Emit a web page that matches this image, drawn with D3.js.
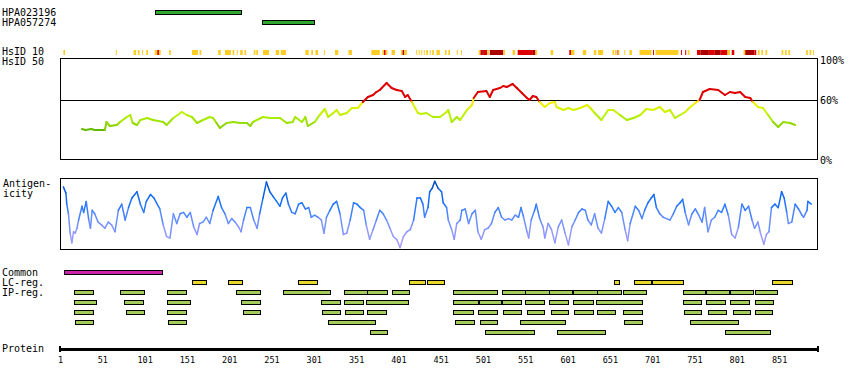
<!DOCTYPE html>
<html>
<head>
<meta charset="utf-8">
<script src="https://cdnjs.cloudflare.com/ajax/libs/d3/7.8.5/d3.min.js"></script>
<style>
    body { margin: 0; background: #fff; }
    text { font-family: "DejaVu Sans Mono", monospace; font-size: 10px; fill: #000; }
</style>
</head>
<body>
<svg id="chart" width="850" height="390"></svg>
<script>

var proteinLength = 897;
var axisTicks = [1, 51, 101, 151, 201, 251, 301, 351, 401, 451, 501, 551, 601, 651, 701, 751, 801, 851];
var pctTicks = [100, 60, 0];

var antibodyNames = ["HPA023196", "HPA057274"];
var antibodyRanges = [[113, 215], [240, 302]];

// HsID 10 hits: [start, end, level]  0 = gold, 1 = red, 2 = dark red
var hsidHits = [
    [5, 7, 0], [67, 68, 0], [88, 91, 0], [93, 95, 0], [98, 99, 0], [103, 105, 0],
    [113, 116, 0], [116, 118, 1], [118, 120, 0], [130, 132, 0], [157, 164, 0], [166, 168, 0],
    [188, 191, 0], [196, 203, 0], [205, 207, 0], [210, 211, 0], [214, 217, 0], [219, 221, 0],
    [230, 232, 0], [233, 235, 0], [241, 248, 0], [256, 260, 0], [262, 268, 0],
    [291, 295, 0], [298, 300, 0], [303, 306, 0], [313, 314, 0], [326, 330, 0], [342, 346, 0],
    [369, 379, 0], [382, 384, 0], [384, 386, 1], [386, 388, 0], [393, 397, 0],
    [404, 406, 0], [406, 408, 2], [408, 411, 0],
    [422, 423, 0], [425, 426, 0], [428, 429, 0], [431, 432, 0], [434, 436, 0], [438, 439, 0], [441, 443, 0],
    [446, 450, 0], [456, 458, 0], [460, 462, 0], [470, 471, 0], [475, 476, 0],
    [496, 498, 0], [498, 500, 1], [500, 502, 2], [502, 506, 1], [506, 508, 0], [509, 525, 2], [525, 527, 0],
    [536, 539, 0], [542, 560, 1], [560, 563, 2], [563, 565, 0],
    [581, 584, 0], [603, 605, 1], [605, 609, 0], [619, 623, 0], [632, 635, 0], [637, 643, 0],
    [654, 656, 0], [657, 659, 0], [660, 661, 1], [661, 662, 0], [668, 669, 0], [674, 677, 0],
    [686, 700, 0], [702, 703, 1], [705, 732, 0], [735, 736, 1], [740, 741, 1], [743, 745, 0],
    [754, 758, 1], [758, 768, 2], [768, 775, 1], [775, 782, 2], [782, 790, 1], [790, 793, 0], [795, 798, 1],
    [809, 811, 0], [811, 822, 2], [822, 824, 1], [826, 828, 0], [830, 832, 0], [835, 837, 0],
    [854, 856, 0], [858, 860, 0], [862, 864, 0], [883, 885, 0], [887, 889, 0], [891, 892, 0]
];

// HsID 50 similarity, [residue, percent]
var similarity = [
    [27, 31], [31, 30], [38, 31], [42, 30], [54, 30],
    [56, 38], [60, 34], [68, 35], [72, 38], [80, 43], [84, 45], [87, 37], [92, 35], [96, 40],
    [104, 42], [111, 40], [123, 38], [127, 35], [135, 42], [145, 48], [151, 45], [157, 43],
    [163, 37], [170, 40], [178, 43], [182, 42], [186, 37], [190, 32], [198, 37], [206, 38],
    [214, 37], [222, 37], [226, 34], [229, 38], [241, 43], [249, 42], [261, 42], [269, 37],
    [276, 38], [279, 43], [287, 38], [291, 43], [294, 34], [302, 38], [308, 45], [314, 51],
    [318, 43], [324, 47], [328, 50], [332, 45], [340, 47], [346, 52], [353, 52], [359, 58],
    [365, 63], [371, 65], [375, 68], [379, 70], [387, 77], [393, 72], [399, 70], [405, 69],
    [409, 63], [412, 65], [417, 58], [424, 47], [428, 46], [434, 47], [442, 43], [450, 43],
    [458, 48], [460, 50], [464, 38], [470, 43], [474, 40], [482, 50], [488, 55], [490, 62],
    [495, 68], [505, 69], [509, 63], [513, 70], [521, 72], [525, 74], [529, 73], [536, 76],
    [541, 72], [547, 67], [553, 62], [556, 60], [560, 64], [564, 63], [568, 58], [574, 53],
    [580, 57], [586, 58], [588, 53], [596, 50], [602, 52], [608, 50], [616, 52], [624, 55],
    [628, 52], [633, 47], [641, 40], [649, 50], [655, 50], [663, 45], [671, 40], [679, 42],
    [687, 45], [694, 51], [702, 50], [710, 53], [716, 48], [722, 50], [728, 42], [734, 45],
    [740, 48], [746, 53], [752, 57], [757, 60], [761, 68], [769, 71], [779, 70], [787, 65],
    [793, 68], [799, 67], [805, 68], [811, 63], [817, 62], [820, 58], [826, 53], [832, 52],
    [838, 45], [844, 38], [850, 33], [856, 38], [864, 37], [870, 35]
];

// antigenicity, [residue, relative score 0-100]
var antigenicity = [
    [5, 90], [8, 81], [9, 65], [11, 51], [13, 23], [15, 9], [17, 25], [19, 23], [21, 30], [23, 42],
    [27, 62], [29, 53], [32, 69], [35, 42], [37, 30], [39, 56], [42, 51], [46, 39], [50, 35], [54, 30],
    [58, 39], [62, 35], [66, 25], [70, 56], [74, 65], [78, 42], [82, 60], [86, 74], [92, 83], [96, 65],
    [100, 53], [103, 69], [108, 79], [112, 74], [115, 67], [119, 58], [123, 35], [127, 18], [131, 16],
    [135, 51], [139, 37], [143, 51], [147, 53], [151, 46], [155, 53], [159, 32], [163, 21], [166, 37],
    [170, 39], [174, 46], [178, 37], [182, 56], [188, 76], [192, 60], [196, 51], [200, 37], [204, 44],
    [208, 39], [212, 32], [215, 25], [218, 42], [222, 60], [226, 60], [230, 42], [234, 30], [237, 51],
    [241, 74], [245, 97], [249, 83], [253, 76], [257, 69], [261, 62], [264, 74], [268, 81], [271, 65],
    [275, 53], [279, 51], [283, 65], [287, 67], [291, 58], [295, 60], [298, 46], [302, 49], [306, 46],
    [310, 42], [313, 23], [316, 46], [320, 56], [324, 65], [328, 69], [332, 51], [336, 21], [340, 23],
    [344, 42], [348, 67], [352, 65], [356, 60], [360, 56], [363, 35], [367, 14], [371, 28], [375, 42],
    [379, 56], [383, 51], [387, 42], [391, 30], [395, 18], [399, 14], [403, 2], [407, 18], [411, 25],
    [415, 28], [419, 42], [423, 74], [427, 74], [430, 65], [432, 46], [436, 60], [438, 83], [441, 88],
    [444, 98], [448, 88], [452, 83], [454, 67], [458, 60], [460, 42], [464, 28], [467, 14], [470, 37],
    [474, 42], [476, 56], [480, 58], [484, 37], [488, 51], [492, 56], [495, 25], [499, 14], [503, 28],
    [507, 30], [511, 37], [515, 53], [519, 60], [523, 46], [527, 42], [531, 44], [535, 42], [539, 49],
    [543, 46], [546, 60], [549, 46], [553, 25], [555, 16], [558, 42], [562, 56], [564, 65], [568, 44],
    [572, 32], [574, 16], [578, 37], [582, 28], [586, 9], [590, 32], [594, 42], [598, 23], [602, 6],
    [606, 32], [610, 42], [614, 53], [618, 58], [622, 56], [625, 42], [629, 35], [633, 51], [637, 30],
    [641, 23], [645, 44], [649, 69], [653, 62], [657, 53], [661, 60], [665, 53], [669, 28], [672, 12],
    [675, 37], [681, 62], [685, 56], [689, 44], [692, 56], [696, 67], [700, 74], [703, 79], [706, 60],
    [710, 51], [714, 46], [718, 44], [722, 42], [726, 51], [730, 62], [734, 67], [737, 72], [740, 53],
    [744, 35], [748, 51], [752, 58], [756, 49], [760, 39], [763, 60], [767, 25], [771, 42], [775, 46],
    [779, 56], [783, 53], [787, 65], [791, 49], [795, 21], [799, 16], [803, 32], [807, 65], [811, 56],
    [815, 62], [819, 42], [822, 30], [826, 39], [829, 23], [833, 7], [836, 21], [839, 25], [842, 60],
    [846, 65], [850, 60], [854, 83], [857, 74], [860, 53], [862, 37], [866, 39], [870, 65], [874, 58],
    [878, 49], [880, 46], [884, 56], [885, 69], [889, 65]
];

var commonRange = [6, 122];
var lcRegions = [[157, 174], [199, 215], [282, 305], [414, 433], [435, 455], [656, 662], [679, 699], [701, 738], [843, 867]];
var ipRows = [
    [[17, 40], [72, 100], [127, 150], [209, 237], [265, 321], [337, 364], [364, 388], [393, 413],
     [465, 517], [523, 550], [551, 579], [579, 606], [607, 635], [636, 664], [667, 694],
     [738, 764], [765, 792], [793, 820], [822, 848]],
    [[18, 44], [77, 100], [127, 154], [215, 237], [310, 332], [337, 359], [363, 413],
     [466, 495], [496, 522], [523, 546], [551, 573], [579, 601], [607, 631], [635, 689],
     [738, 759], [765, 788], [793, 816], [822, 843]],
    [[18, 40], [79, 100], [127, 150], [217, 237], [311, 332], [338, 359], [364, 387],
     [466, 490], [495, 517], [525, 546], [553, 573], [581, 601], [609, 631], [636, 657], [667, 689],
     [739, 759], [767, 788], [796, 816], [823, 843]],
    [[19, 40], [129, 150], [318, 374], [468, 490], [497, 517], [545, 598], [668, 689], [746, 803]],
    [[367, 387], [503, 561], [588, 645], [787, 840]]
];

var svg = d3.select("#chart");

var x = d3.scaleLinear().domain([1, proteinLength]).range([60, 818]);
var ySim = d3.scaleLinear().domain([0, 100]).range([160, 60]);
var yAnt = d3.scaleLinear().domain([0, 100]).range([249, 180]);

var simScale = d3.scaleLinear()
    .domain([30, 35, 42, 50, 57, 60])
    .range(["#62b800", "#8fd600", "#aaee00", "#d2f200", "#f6ef00", "#ffd400"])
    .clamp(true);
function simColor(v) { return v >= 60 ? "#dd0000" : simScale(v); }

var antColor = d3.scaleLinear()
    .domain([0, 25, 45, 65, 85, 100])
    .range(["#aaa0ff", "#9098ff", "#5f8cff", "#1a72ff", "#0a5ee8", "#00449a"])
    .clamp(true);

var hsidColors = ["#ffcc22", "#dd0000", "#aa0000"];

// left labels
function label(txt, xx, yy) {
    svg.append("text").attr("x", xx).attr("y", yy).text(txt);
}
label(antibodyNames[0], 2, 16);
label(antibodyNames[1], 2, 26);
label("HsID 10", 2, 55);
label("HsID 50", 2, 65);
label("Antigen-", 3, 187);
label("icity", 3, 197);
label("Common", 2, 276);
label("LC-reg.", 2, 286);
label("IP-reg.", 2, 296);
label("Protein", 2, 352);

// bars with outline
function bars(data, yy, fill) {
    svg.append("g").selectAll("rect").data(data).join("rect")
        .attr("x", function (d) { return Math.round(x(d[0])) + 0.5; })
        .attr("y", yy + 0.5)
        .attr("width", function (d) { return Math.max(2, Math.round(x(d[1]) - x(d[0]))); })
        .attr("height", 4)
        .attr("fill", fill)
        .attr("stroke", "#000")
        .attr("stroke-width", 1);
}

bars([antibodyRanges[0]], 10, "#30a830");
bars([antibodyRanges[1]], 20, "#30a830");

// HsID 10 hits
svg.append("g").selectAll("rect").data(hsidHits).join("rect")
    .attr("x", function (d) { return x(d[0]); })
    .attr("y", 50)
    .attr("width", function (d) { return Math.max(1, x(d[1]) - x(d[0])); })
    .attr("height", 5)
    .attr("fill", function (d) { return hsidColors[d[2]]; });

// similarity panel
svg.append("rect")
    .attr("x", 60.5).attr("y", 58.5)
    .attr("width", 757).attr("height", 101)
    .attr("fill", "none").attr("stroke", "#000");

svg.append("line")
    .attr("x1", 60).attr("x2", 818)
    .attr("y1", ySim(60) + 0.5).attr("y2", ySim(60) + 0.5)
    .attr("stroke", "#000");

svg.append("g").selectAll("text").data(pctTicks).join("text")
    .attr("x", 820)
    .attr("y", function (d) { return ySim(d) + 3.5; })
    .text(function (d) { return d + "%"; });

svg.append("g").selectAll("line").data(d3.pairs(similarity)).join("line")
    .attr("x1", function (p) { return x(p[0][0]); })
    .attr("y1", function (p) { return ySim(p[0][1]); })
    .attr("x2", function (p) { return x(p[1][0]); })
    .attr("y2", function (p) { return ySim(p[1][1]); })
    .attr("stroke", function (p) { return simColor((p[0][1] + p[1][1]) / 2); })
    .attr("stroke-width", 2)
    .attr("stroke-linecap", "round");

// antigenicity panel
svg.append("rect")
    .attr("x", 60.5).attr("y", 178.5)
    .attr("width", 757).attr("height", 71)
    .attr("fill", "none").attr("stroke", "#000");

svg.append("g").selectAll("line").data(d3.pairs(antigenicity)).join("line")
    .attr("x1", function (p) { return x(p[0][0]); })
    .attr("y1", function (p) { return yAnt(p[0][1]); })
    .attr("x2", function (p) { return x(p[1][0]); })
    .attr("y2", function (p) { return yAnt(p[1][1]); })
    .attr("stroke", function (p) { return antColor((p[0][1] + p[1][1]) / 2); })
    .attr("stroke-width", 1.5)
    .attr("stroke-linecap", "round");

// regions
bars([commonRange], 270, "#cc22aa");
bars(lcRegions, 280, "#e8d82a");
ipRows.forEach(function (row, i) {
    bars(row, 290 + i * 10, "#a3cc5b");
});

// protein axis
var axis = d3.axisBottom(x)
    .tickValues(axisTicks)
    .tickSizeInner(0)
    .tickSizeOuter(0)
    .tickPadding(8)
    .tickFormat(d3.format("d"));

var gAxis = svg.append("g")
    .attr("transform", "translate(0,349)")
    .call(axis);

gAxis.select(".domain").attr("stroke-width", 3);
gAxis.selectAll(".tick text")
    .style("font-family", "'DejaVu Sans Mono', monospace")
    .style("font-size", "8.5px");

gAxis.selectAll(".cap").data(x.domain()).join("line")
    .attr("class", "cap")
    .attr("x1", function (d) { return x(d); })
    .attr("x2", function (d) { return x(d); })
    .attr("y1", -3).attr("y2", 3)
    .attr("stroke", "#000").attr("stroke-width", 2);

</script>
</body>
</html>
